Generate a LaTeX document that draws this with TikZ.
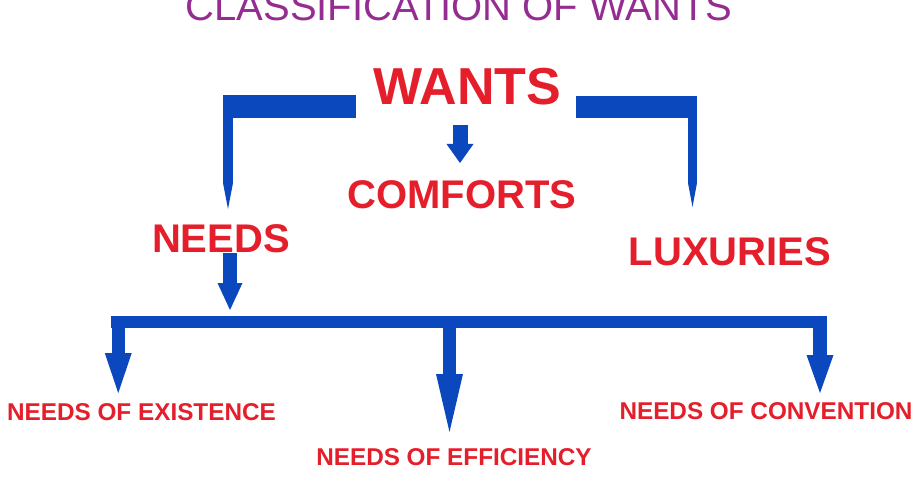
\documentclass[tikz,border=0pt]{standalone}
\usepackage{fontspec}
\setmainfont{Liberation Sans}
\usetikzlibrary{arrows.meta}
\definecolor{wantred}{RGB}{228,30,43}
\definecolor{wantblue}{RGB}{11,72,190}
\definecolor{titlepurple}{RGB}{149,44,145}
\tikzset{
  headtxt/.style={text=wantred, font=\fontsize{40}{40}\selectfont\bfseries, anchor=base, inner sep=0pt},
  subtxt/.style={text=wantred, font=\fontsize{24.3}{24.3}\selectfont\bfseries, anchor=base, inner sep=0pt},
  bar/.style={draw=wantblue, line width=#1}
}

\begin{document}
\begin{tikzpicture}[x=1pt,y=-1pt]
\clip (0,0) rectangle (921,484);

\node (title) at (459,21)[anchor=base,inner sep=0pt,text=titlepurple,font=\fontsize{40}{40}\selectfont] {CLASSIFICATION OF WANTS};
\node (wants) at (467.5,105)[headtxt,font=\fontsize{52}{52}\selectfont\bfseries] {WANTS};
\node (comforts) at (462,208)[headtxt] {COMFORTS};
\node (needs) at (221,252)[headtxt] {NEEDS};
\node (luxuries) at (730,265)[headtxt] {LUXURIES};
\node (existence) at (141.5,420)[subtxt] {NEEDS OF EXISTENCE};
\node (efficiency) at (454,465)[subtxt] {NEEDS OF EFFICIENCY};
\node (convention) at (766,419)[subtxt] {NEEDS OF CONVENTION};

\coordinate (wl) at (356,106.5);
\coordinate (wlc) at (223,106.5);
\coordinate (wr) at (576,107);
\coordinate (wrc) at (697,107);
\coordinate (ntip) at (228,209);
\coordinate (ltip) at (692.5,207);
\coordinate (ctop) at (460,125);
\coordinate (ctip) at (460,163);
\coordinate (nsrc) at (230,253);
\coordinate (ndst) at (230,310);
\coordinate (bl) at (111,321.75);
\coordinate (br) at (827,321.75);
\coordinate (etip) at (118.25,393);
\coordinate (ftip) at (449.5,432);
\coordinate (vtip) at (820,393);

\draw [bar=23pt] (wl) -- (wlc);
\draw [bar=10pt,-{Triangle[length=26pt,width=10pt,line width'=0pt]}] (wlc -| ntip) -- (ntip);
\draw [bar=22pt] (wr) -- (wrc);
\draw [bar=9pt,-{Triangle[length=24pt,width=9pt,line width'=0pt]}] (wrc -| ltip) -- (ltip);
\draw [bar=15pt,-{Triangle[length=19pt,width=27pt,line width'=0pt]}] (ctop) -- (ctip);
\draw [bar=14pt,-{Triangle[length=27pt,width=25pt,line width'=0pt]}] (nsrc) -- (ndst);
\draw [bar=12.5pt] (bl) -- (br);
\draw [bar=13.5pt,-{Triangle[length=40pt,width=27pt,line width'=0pt]}] (bl -| etip) -- (etip);
\draw [bar=13pt,-{Triangle[length=58pt,width=27pt,line width'=0pt]}] (bl -| ftip) -- (ftip);
\draw [bar=14pt,-{Triangle[length=38pt,width=27pt,line width'=0pt]}] (bl -| vtip) -- (vtip);
\end{tikzpicture}
\end{document}
